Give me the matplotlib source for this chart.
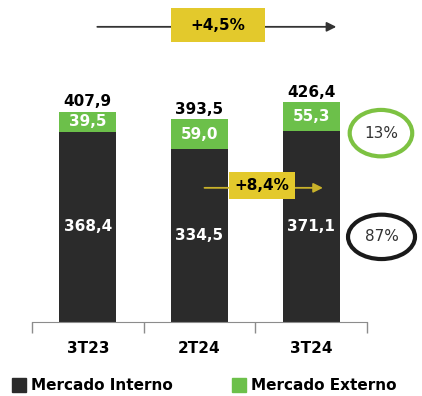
import matplotlib.pyplot as plt
from matplotlib.patches import Ellipse, Rectangle

categories = ['3T23', '2T24', '3T24']
interno = [368.4, 334.5, 371.1]
externo = [39.5, 59.0, 55.3]
totals = [407.9, 393.5, 426.4]
shares = ['13%', '87%']
growth_total = '+4,5%'
growth_interno = '+8,4%'

dark = '#2b2b2b'
green = '#6cc04a'
yellow = '#e3c92c'

def fmt(v):
    return f'{v:.1f}'.replace('.', ',')

fig = plt.figure(figsize=(4.22, 3.96), dpi=100)
# axes spans pixel x 32..367, y 0..322 (from top)
ax = fig.add_axes([32 / 422, (396 - 322) / 396, 335 / 422, 322 / 396])
x = list(range(len(categories)))
w = 0.51
ax.bar(x, interno, width=w, color=dark)
ax.bar(x, externo, width=w, bottom=interno, color=green)

for i in x:
    ax.text(i, interno[i] / 2, fmt(interno[i]), ha='center', va='center',
            color='white', fontsize=11, fontweight='bold')
    ax.text(i, interno[i] + externo[i] / 2, fmt(externo[i]), ha='center', va='center',
            color='white', fontsize=11, fontweight='bold')
    ax.text(i, totals[i] + 4, fmt(totals[i]), ha='center', va='bottom',
            color='black', fontsize=11, fontweight='bold')

ax.set_xlim(-0.5, 2.5)
ax.set_ylim(0, 624)
for s in ['top', 'right', 'left']:
    ax.spines[s].set_visible(False)
ax.spines['bottom'].set_color('#8c8c8c')
ax.set_yticks([])
ax.set_xticks(x)
ax.set_xticklabels(categories, fontsize=11, fontweight='bold')
ax.tick_params(axis='x', which='major', length=0, pad=14)
ax.set_xticks([-0.5, 0.5, 1.5, 2.5], minor=True)
ax.tick_params(axis='x', which='minor', length=8, color='#8c8c8c', width=1)

# top growth arrow
ax.annotate('', xy=(2.25, 572), xytext=(0.06, 572),
            arrowprops=dict(arrowstyle='-|>', color='#333333', lw=1.3, mutation_scale=14))
ax.add_patch(Rectangle((0.744, 543), 0.842, 66, fc=yellow, ec='none', zorder=3, clip_on=False))
ax.text(1.165, 575, growth_total, ha='center', va='center', fontsize=11,
        fontweight='bold', zorder=4)

# internal market growth arrow
ax.annotate('', xy=(2.13, 260), xytext=(1.02, 260),
            arrowprops=dict(arrowstyle='-|>', color='#c9b22a', lw=1.3, mutation_scale=14))
ax.add_patch(Rectangle((1.264, 238), 0.591, 53, fc=yellow, ec='none', zorder=3))
ax.text(1.559, 264, growth_interno, ha='center', va='center', fontsize=11,
        fontweight='bold', zorder=4)

# share ellipses
e1 = Ellipse((2.625, 366), 0.56, 90, fill=False, ec='#7dc242', lw=3, clip_on=False)
e2 = Ellipse((2.63, 165), 0.6, 86, fill=False, ec='#1a1a1a', lw=3, clip_on=False)
ax.add_patch(e1)
ax.add_patch(e2)
ax.text(2.625, 366, shares[0], ha='center', va='center', fontsize=11, color='#333333', clip_on=False)
ax.text(2.63, 165, shares[1], ha='center', va='center', fontsize=11, color='#333333', clip_on=False)

# legend
fig.patches.append(Rectangle((12 / 422, 1 - 392 / 396), 14 / 422, 14 / 396,
                             transform=fig.transFigure, color=dark))
fig.text(31 / 422, 1 - 385 / 396, 'Mercado Interno', fontsize=11, fontweight='bold',
         va='center', ha='left')
fig.patches.append(Rectangle((232 / 422, 1 - 392 / 396), 14 / 422, 14 / 396,
                             transform=fig.transFigure, color=green))
fig.text(251 / 422, 1 - 385 / 396, 'Mercado Externo', fontsize=11, fontweight='bold',
         va='center', ha='left')

fig.savefig('out.png', dpi=100)
